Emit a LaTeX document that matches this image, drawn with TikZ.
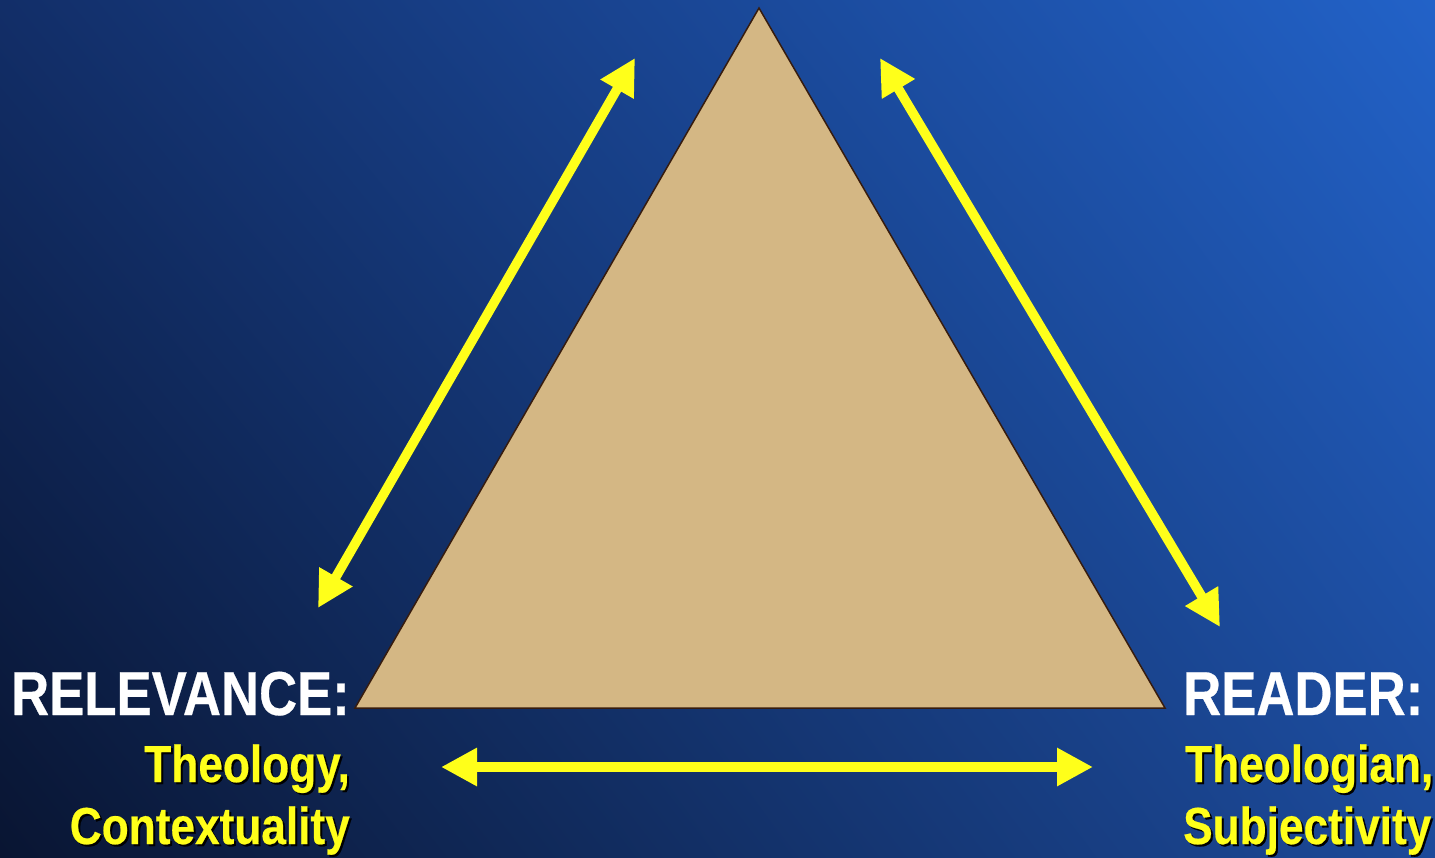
\documentclass[tikz,border=0pt]{standalone}
\usepackage{fontspec}
\usetikzlibrary{arrows.meta,shadings}
\newfontfamily\narrowsans{Liberation Sans}[FakeStretch=0.85, BoldFeatures={FakeBold=0.4}]
\definecolor{bgUL}{RGB}{18,46,104}
\definecolor{bgUR}{RGB}{34,98,200}
\definecolor{bgLL}{RGB}{9,21,50}
\definecolor{bgLR}{RGB}{28,74,154}
\definecolor{tan}{RGB}{212,183,132}
\definecolor{triedge}{RGB}{55,28,14}
\definecolor{arrowyellow}{RGB}{255,255,26}
\tikzset{
  twoway/.style={draw=arrowyellow, line width=9.5pt,
    {Triangle[length=36pt,width=36pt]}-{Triangle[length=36pt,width=36pt]}},
  headlabel/.style={inner sep=0pt, text=white, font=\narrowsans\bfseries\fontsize{62}{62}\selectfont},
  sublabel/.style={inner sep=0pt, text=arrowyellow, font=\narrowsans\bfseries\fontsize{52}{52}\selectfont},
  subshadow/.style={inner sep=0pt, text=black, font=\narrowsans\bfseries\fontsize{52}{52}\selectfont}
}
\begin{document}
\begin{tikzpicture}[x=1pt,y=-1pt]
\useasboundingbox (0,0) rectangle (1435,857);
\shade[upper left=bgUL, upper right=bgUR, lower left=bgLL, lower right=bgLR] (0,0) rectangle (1435,857);
% triangle
\coordinate (apex) at (759,8);
\coordinate (bl) at (355,708);
\coordinate (br) at (1165,708);
\filldraw[fill=tan, draw=triedge, line width=1.5pt, line join=miter] (apex) -- (bl) -- (br) -- cycle;
% arrows
\coordinate (l1) at (318,608);
\coordinate (l2) at (635,58);
\coordinate (r1) at (880,58);
\coordinate (r2) at (1220,627);
\coordinate (b1) at (441,767);
\coordinate (b2) at (1093,767);
\draw[twoway] (l1) -- (l2);
\draw[twoway] (r1) -- (r2);
\draw[twoway] (b1) -- (b2);
% left labels
\node[headlabel, anchor=base east] (relevance) at (350,715) {RELEVANCE:};
\node[subshadow, anchor=base east] at (352,784) {Theology,};
\node[sublabel, anchor=base east] (theology) at (350,782) {Theology,};
\node[subshadow, anchor=base east] at (352,846) {Contextuality};
\node[sublabel, anchor=base east] (context) at (350,844) {Contextuality};
% right labels
\node[headlabel, anchor=base west] (reader) at (1183,715) {READER:};
\node[subshadow, anchor=base west] at (1187,784) {Theologian,};
\node[sublabel, anchor=base west] (theologian) at (1185,782) {Theologian,};
\node[subshadow, anchor=base west] at (1185,846) {Subjectivity};
\node[sublabel, anchor=base west] (subj) at (1183,844) {Subjectivity};
\end{tikzpicture}
\end{document}
